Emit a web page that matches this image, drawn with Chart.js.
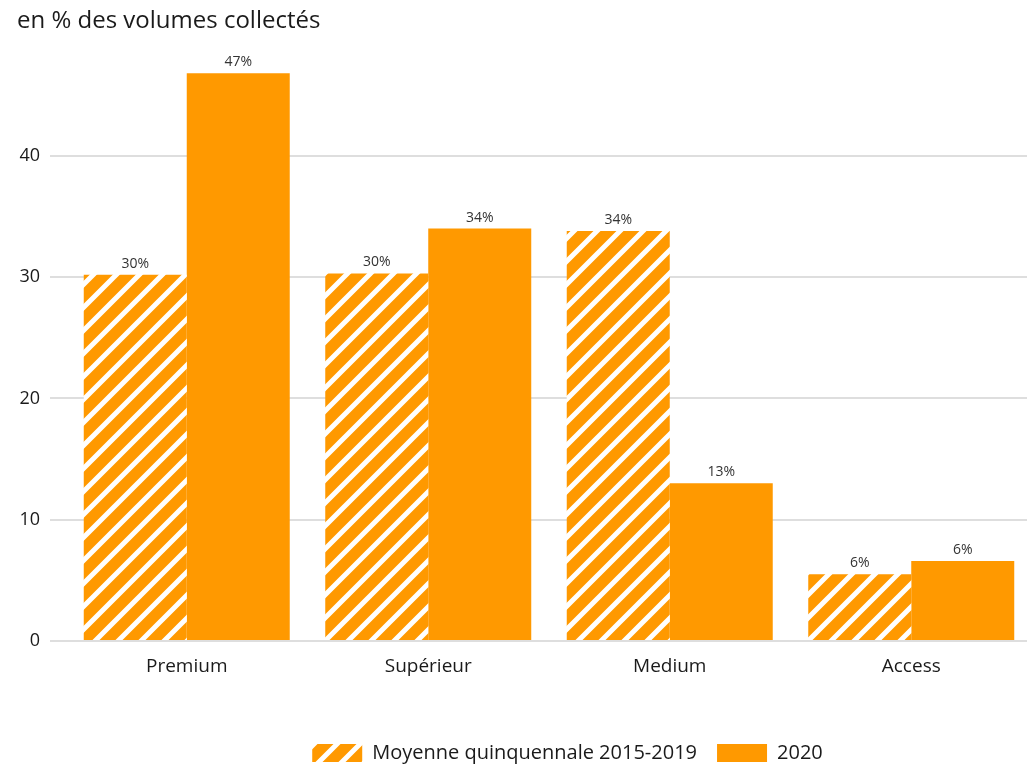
<!DOCTYPE html>
<html>
<head>
<meta charset="utf-8">
<script src="https://cdn.jsdelivr.net/npm/chart.js@4"></script>
<style>
  html, body { margin: 0; padding: 0; background: #fff; overflow: hidden; }
  #wrap { position: absolute; left: 0; top: 0; width: 1032px; height: 776px; }
</style>
</head>
<body>
<div id="wrap"><canvas id="c"></canvas></div>
<script>
// ── Data ──────────────────────────────────────────────────────────────
const categories  = ['Premium', 'Supérieur', 'Medium', 'Access'];
const seriesNames = ['Moyenne quinquennale 2015-2019', '2020'];
const avgValues   = [30.2, 30.3, 33.8, 5.5];
const y2020Values = [46.8, 34.0, 13.0, 6.6];
const avgLabels   = ['30%', '30%', '34%', '6%'];
const y2020Labels = ['47%', '34%', '13%', '6%'];
const yTicks      = [0, 10, 20, 30, 40];

const ORANGE = '#ff9900';
const FONT   = "'Open Sans', 'DejaVu Sans', sans-serif";

// ── Hatch pattern ─────────────────────────────────────────────────────
function makeHatch() {
    const s = 23;
    const c = document.createElement('canvas');
    c.width = s; c.height = s;
    const g = c.getContext('2d');
    g.fillStyle = ORANGE;
    g.fillRect(0, 0, s, s);
    g.strokeStyle = '#fff';
    g.lineWidth = 5;
    g.beginPath();
    g.moveTo(-s, s * 2); g.lineTo(s * 2, -s);
    g.moveTo(-s * 2, s * 2); g.lineTo(s, -s);
    g.moveTo(0, s * 2); g.lineTo(s * 3, -s);
    g.stroke();
    return g.createPattern(c, 'repeat');
}
const hatch = makeHatch();

// ── Value labels above bars ───────────────────────────────────────────
const barLabels = {
    id: 'barLabels',
    afterDatasetsDraw(chart) {
        const ctx = chart.ctx;
        const texts = [avgLabels, y2020Labels];
        ctx.save();
        ctx.font = "14px " + FONT;
        ctx.fillStyle = '#333';
        ctx.textAlign = 'center';
        ctx.textBaseline = 'bottom';
        chart.data.datasets.forEach((ds, i) => {
            chart.getDatasetMeta(i).data.forEach((bar, j) => {
                ctx.fillText(texts[i][j], bar.x, bar.y - 4);
            });
        });
        ctx.restore();
    }
};

// legend sits a bit right of the canvas centre in the original
const legendShift = {
    id: 'legendShift',
    afterLayout(chart) {
        const lg = chart.legend;
        if (!lg) return;
        lg.left += 43;
        lg.right += 43;
    }
};

new Chart(document.getElementById('c'), {
    type: 'bar',
    data: {
        labels: categories,
        datasets: [
            { label: seriesNames[0], data: avgValues,   backgroundColor: hatch,  borderWidth: 0 },
            { label: seriesNames[1], data: y2020Values, backgroundColor: ORANGE, borderWidth: 0 }
        ]
    },
    options: {
        responsive: true,
        maintainAspectRatio: false,
        animation: false,
        layout: { padding: { left: 17, right: 0, top: 0, bottom: 3 } },
        datasets: { bar: { categoryPercentage: 0.853, barPercentage: 1 } },
        plugins: {
            title: {
                display: true,
                text: 'en % des volumes collectés',
                align: 'start',
                color: '#1a1a1a',
                font: { family: FONT, size: 24, weight: 'normal' },
                padding: { top: 7, bottom: 23 }
            },
            legend: {
                position: 'bottom',
                labels: {
                    color: '#1a1a1a',
                    font: { family: FONT, size: 20 },
                    boxWidth: 50,
                    boxHeight: 18,
                    padding: 20
                }
            },
            tooltip: { enabled: false }
        },
        scales: {
            x: {
                grid: { display: false },
                border: { display: false },
                afterFit: s => { s.height = 82; },
                ticks: { color: '#1a1a1a', font: { family: FONT, size: 19 }, padding: 6 }
            },
            y: {
                min: 0, max: 48,
                border: { display: false },
                grid: { color: '#dedede', lineWidth: 2, tickLength: 16, drawTicks: true },
                afterBuildTicks: s => { s.ticks = yTicks.map(v => ({ value: v })); },
                afterFit: s => { s.width = 49; },
                ticks: { color: '#1a1a1a', font: { family: FONT, size: 18 }, padding: 10 }
            }
        }
    },
    plugins: [barLabels, legendShift]
});
</script>
</body>
</html>
